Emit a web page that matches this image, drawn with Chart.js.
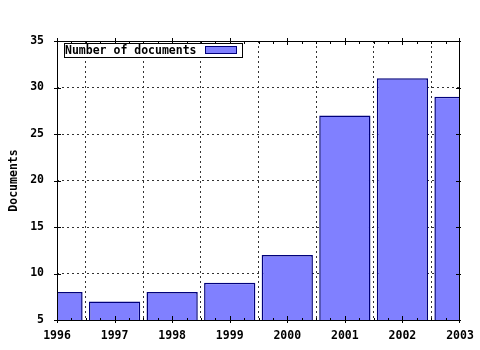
<!DOCTYPE html>
<html>
<head>
<meta charset="utf-8">
<script src="https://cdn.jsdelivr.net/npm/chart.js@4/dist/chart.umd.min.js"></script>
<style>
  html, body { margin: 0; padding: 0; background: #fff; }
  #wrap { width: 480px; height: 350px; }
</style>
</head>
<body>
<div id="wrap"><canvas id="chart" width="480" height="350"></canvas></div>
<script>
const years = ['1996', '1997', '1998', '1999', '2000', '2001', '2002', '2003'];
const documents = [8, 7, 8, 9, 12, 27, 31, 29];
const seriesLabel = 'Number of documents';
const yTitle = 'Documents';

const FONT = '"DejaVu Sans Mono", monospace';
const SIZE = 11.5;

// frame, tick marks and the boxed legend, gnuplot style
const framePlugin = {
  id: 'frame',
  afterDatasetsDraw(chart) {
    const { ctx, chartArea: a, scales } = chart;
    ctx.save();
    ctx.strokeStyle = '#000';
    ctx.lineWidth = 1;
    ctx.strokeRect(a.left + 0.5, a.top + 0.5, a.right - a.left - 1, a.bottom - a.top);
    ctx.beginPath();
    scales.y.ticks.forEach((t, i) => {
      const y = Math.round(scales.y.getPixelForTick(i)) + 0.5;
      ctx.moveTo(a.left - 3, y); ctx.lineTo(a.left + 4, y);
      ctx.moveTo(a.right - 4, y); ctx.lineTo(a.right + 1, y);
    });
    const n = scales.x.ticks.length;
    for (let i = 0; i < n; i++) {
      const x0 = scales.x.getPixelForTick(i);
      const x = Math.min(Math.round(x0), a.right - 1) + 0.5;
      ctx.moveTo(x, a.bottom - 4); ctx.lineTo(x, a.bottom + 3);
      ctx.moveTo(x, a.top - 3); ctx.lineTo(x, a.top + 4);
      if (i < n - 1) {
        const step = (scales.x.getPixelForTick(i + 1) - x0) / 4;
        for (let k = 1; k < 4; k++) {
          const xm = Math.round(x0 + k * step) + 0.5;
          ctx.moveTo(xm, a.bottom - 2); ctx.lineTo(xm, a.bottom + 1);
          ctx.moveTo(xm, a.top); ctx.lineTo(xm, a.top + 3);
        }
      }
    }
    ctx.stroke();

    // legend
    const ds = chart.data.datasets[0];
    const lx = a.left + 7, ly = a.top + 2;
    ctx.fillStyle = '#fff';
    ctx.fillRect(lx, ly, 178, 14);
    ctx.strokeRect(lx + 0.5, ly + 0.5, 178, 14);
    ctx.fillStyle = '#000';
    ctx.font = 'bold ' + SIZE + 'px ' + FONT;
    ctx.textBaseline = 'middle';
    ctx.textAlign = 'left';
    ctx.fillText(ds.label, lx + 1, ly + 8);
    ctx.fillStyle = ds.backgroundColor;
    ctx.fillRect(lx + 141, ly + 3, 31, 7);
    ctx.strokeStyle = ds.borderColor;
    ctx.strokeRect(lx + 141.5, ly + 3.5, 31, 7);
    ctx.restore();
  }
};

new Chart(document.getElementById('chart'), {
  type: 'bar',
  data: {
    labels: years,
    datasets: [{
      label: seriesLabel,
      data: documents,
      backgroundColor: '#8080ff',
      borderColor: '#00007a',
      borderWidth: 1.5,
      categoryPercentage: 1,
      barPercentage: 0.89
    }]
  },
  options: {
    responsive: false,
    animation: false,
    layout: { padding: { left: 0, top: 41, right: 20, bottom: 0 } },
    plugins: {
      legend: { display: false },
      tooltip: { enabled: false }
    },
    scales: {
      x: {
        offset: false,
        grid: { color: '#333', lineWidth: 1, drawTicks: false },
        border: { display: false, dash: [2, 3] },
        ticks: { color: '#000', font: { family: FONT, size: SIZE, weight: 'bold' }, padding: 9, maxRotation: 0, autoSkip: false },
        afterFit(s) { s.height = 30; s.paddingLeft = 0; s.paddingRight = 0; }
      },
      y: {
        min: 5,
        max: 35,
        ticks: { stepSize: 5, color: '#000', font: { family: FONT, size: SIZE, weight: 'bold' }, padding: 13 },
        grid: { color: '#333', lineWidth: 1, drawTicks: false },
        border: { display: false, dash: [2, 3] },
        title: { display: true, text: yTitle, color: '#000', font: { family: FONT, size: SIZE, weight: 'bold' }, padding: { top: 7, bottom: 0 } },
        afterFit(s) { s.width = 57; }
      }
    }
  },
  plugins: [framePlugin]
});
</script>
</body>
</html>
